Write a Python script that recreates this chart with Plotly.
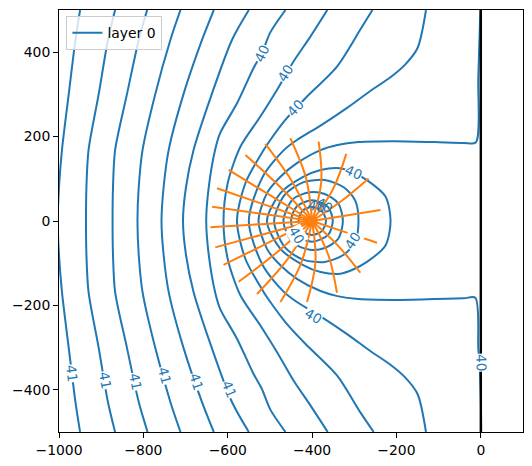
import plotly.graph_objects as go

BLUE = "#1f77b4"
ORANGE = "#ff7f0e"

# head contours far from the well, sampled at shared y levels
far_y = [500, 429, 300, 168, 80, 0, -80, -168, -300, -429, -500]
c1_x = [-950, -961, -977, -993, -1000, -1003, -1000, -993, -977, -961, -950]
c2_x = [-867, -884, -906, -930, -935, -936, -935, -930, -906, -884, -867]
c3_x = [-791, -811, -839, -867, -872, -873, -872, -867, -839, -811, -790]
c4_x = [-712, -736, -772, -802, -811, -814, -811, -802, -772, -736, -712]
c5_x = [-633, -661, -705, -740, -752, -757, -752, -740, -705, -661, -633]
c6_x = [-550, -590, -638, -681, -699, -706, -699, -681, -638, -590, -550]

# contours bending round the well
c7_x = [-463, -499, -519, -539, -578, -618, -630, -645, -651, -645, -630, -618, -578, -539, -519, -499, -463]
c7_y = [500, 447, 398, 362, 279, 208, 168, 80, 0, -80, -168, -208, -279, -362, -398, -447, -500]
c8_x = [-364, -404, -444, -483, -523, -570, -600, -610, -600, -570, -523, -483, -444, -404, -363]
c8_y = [500, 437, 378, 311, 247, 176, 90, 0, -90, -176, -247, -311, -378, -437, -500]
c9_x = [-257, -286, -341, -416, -463, -499, -515, -558, -578, -558, -515, -499, -463, -416, -341, -286, -254]
c9_y = [500, 453, 366, 291, 240, 192, 168, 90, 0, -90, -168, -192, -240, -291, -366, -453, -500]
c10_x = [-130, -150, -180, -215, -262, -317, -380, -436, -467, -517, -550,
         -517, -467, -436, -380, -317, -262, -215, -180, -150, -130]
c10_y = [500, 410, 370, 340, 308, 268, 226, 192, 168, 105, 0,
         -105, -168, -192, -226, -268, -308, -340, -370, -410, -500]

# contour running along the river and round the well
c11_x = [-1, -6, -12, -40, -110, -207, -290, -340, -380, -436, -475, -507, -527,
         -507, -475, -436, -380, -340, -290, -207, -110, -40, -13, -6, -3, 0, 1]
c11_y = [500, 340, 186, 185, 187, 189, 187, 180, 168, 137, 105, 66, 0,
         -66, -105, -137, -166, -178, -185, -187, -185, -183, -182, -304, -336, -420, -500]

# closed contours around the well
r1_x = [-214, -226, -270, -303, -333, -380, -420, -475, -507, -475, -420, -380, -333, -303, -270, -226, -214]
r1_y = [0, 58, 97, 115, 125, 121, 105, 66, 0, -66, -105, -121, -125, -115, -97, -58, 0]
r2_x = [-290, -298, -325, -370, -420, -465, -490, -465, -420, -370, -325, -298, -290]
r2_y = [0, 49, 80, 97, 92, 62, 0, -62, -92, -97, -80, -49, 0]
r3_x = [-327, -338, -370, -405, -445, -468, -445, -405, -370, -338, -327]
r3_y = [0, 42, 64, 68, 52, 0, -52, -68, -64, -42, 0]
r4_x = [-351, -362, -400, -436, -450, -436, -400, -362, -351]
r4_y = [0, 33, 49, 35, 0, -35, -49, -33, 0]
r5_x = [-367, -377, -400, -423, -432, -423, -400, -377, -367]
r5_y = [0, 24, 33, 24, 0, -24, -33, -24, 0]

# pathlines: outer end, a point halfway, then the well
well_x = [-400]
well_y = [0]
path_start_x = [-238, -266, -319, -384.5, -451.6, -511, -558, -598, -625.5, -637,
                -641, -629.5, -610, -574, -530.6, -475, -412, -341, -285.6, -246]
path_start_y = [26, 101, 159, 188, 196, 182.6, 156.5, 121, 77.5, 34,
                -15, -62.5, -104, -144, -173, -192, -192, -170, -122.6, -51.5]
path_mid_x = [-319, -330.6, -350.6, -378.3, -414.2, -448.7, -476.2, -499, -512.8, -518.5,
              -520.5, -514.8, -505, -484.5, -458.9, -426.3, -392, -361.1, -339.1, -323]
path_mid_y = [13, 47.3, 75, 92.9, 101.1, 95.5, 81.1, 60.5, 38.8, 17,
              -7.5, -31.3, -52, -75.1, -91.3, -100.4, -96.9, -81.7, -57.9, -25.8]

# river line-sink
river_x = [0, 0]
river_y = [-520, 520]

# inline contour labels: position, text, angle
label_x = [-969, -890, -819, -750, -675, -596, -519, -463, -440, -303, -305, -437, -396, 2]
label_y = [-360, -377, -380, -366, -380, -398, 398, 350, 267, 115, -47, -34, -224, -336]
label_text = ["41", "41", "41", "41", "41", "41", "40", "40", "40", "40", "40", "40", "40", "40"]
label_angle = [83, 80, 78, 75, 72, 68, -65, -58, -47, 24, -57, 60, 30, 88]
# overlapping labels on the two smallest rings
jumble_x = [-390, -371]
jumble_y = [36, 39]
jumble_angle = [13, 30]

x_ticks = [-1000, -800, -600, -400, -200, 0]
y_ticks = [-400, -200, 0, 200, 400]


def minus(v):
    return str(v).replace("-", "\u2212")


fig = go.Figure()

far_lines = [c1_x, c2_x, c3_x, c4_x, c5_x, c6_x]
contours = [(xs, far_y) for xs in far_lines]
contours += [(c7_x, c7_y), (c8_x, c8_y), (c9_x, c9_y), (c10_x, c10_y), (c11_x, c11_y),
             (r1_x, r1_y), (r2_x, r2_y), (r3_x, r3_y), (r4_x, r4_y), (r5_x, r5_y)]

for i, (xs, ys) in enumerate(contours):
    fig.add_trace(go.Scatter(
        x=xs, y=ys, mode="lines", name="layer 0", showlegend=(i == 0),
        line=dict(color=BLUE, width=2, shape="spline", smoothing=0.8),
        hoverinfo="skip",
    ))

for sx, sy, mx, my in zip(path_start_x, path_start_y, path_mid_x, path_mid_y):
    fig.add_trace(go.Scatter(
        x=[sx, mx, well_x[0]], y=[sy, my, well_y[0]], mode="lines", showlegend=False,
        line=dict(color=ORANGE, width=2, shape="spline"), hoverinfo="skip",
    ))

fig.add_trace(go.Scatter(x=well_x, y=well_y, mode="markers", showlegend=False,
                         marker=dict(color=ORANGE, size=11), hoverinfo="skip"))

fig.add_trace(go.Scatter(x=river_x, y=river_y, mode="lines", showlegend=False,
                         line=dict(color="black", width=2.4), hoverinfo="skip"))

for x, y, t, a in zip(label_x, label_y, label_text, label_angle):
    fig.add_annotation(x=x, y=y, text=t, textangle=a, showarrow=False,
                       font=dict(color=BLUE, size=13.5), bgcolor="white", borderpad=0)

for x, y, a in zip(jumble_x, jumble_y, jumble_angle):
    fig.add_annotation(x=x, y=y, text="40", textangle=a, showarrow=False,
                       font=dict(color=BLUE, size=13.5))

axis_style = dict(
    showline=True, linecolor="black", linewidth=1, mirror=True,
    ticks="outside", ticklen=5, tickwidth=1, tickcolor="black",
    showgrid=False, zeroline=False,
)
fig.update_xaxes(range=[-1000, 100], tickvals=x_ticks,
                 ticktext=[minus(v) for v in x_ticks], **axis_style)
fig.update_yaxes(range=[-500, 500], tickvals=y_ticks,
                 ticktext=[minus(v) for v in y_ticks], **axis_style)

# the page body adds an 8px margin, so the figure is sized to fit inside it
fig.update_layout(
    width=524, height=458, autosize=False,
    margin=dict(l=51, r=9, t=2, b=34),
    plot_bgcolor="white", paper_bgcolor="white",
    font=dict(family="DejaVu Sans", size=13.9, color="black"),
    legend=dict(x=0.016, y=0.985, xanchor="left", yanchor="top",
                bgcolor="rgba(255,255,255,0.8)", bordercolor="#cccccc", borderwidth=1,
                font=dict(size=13.9)),
)

fig.write_html("out.html")
